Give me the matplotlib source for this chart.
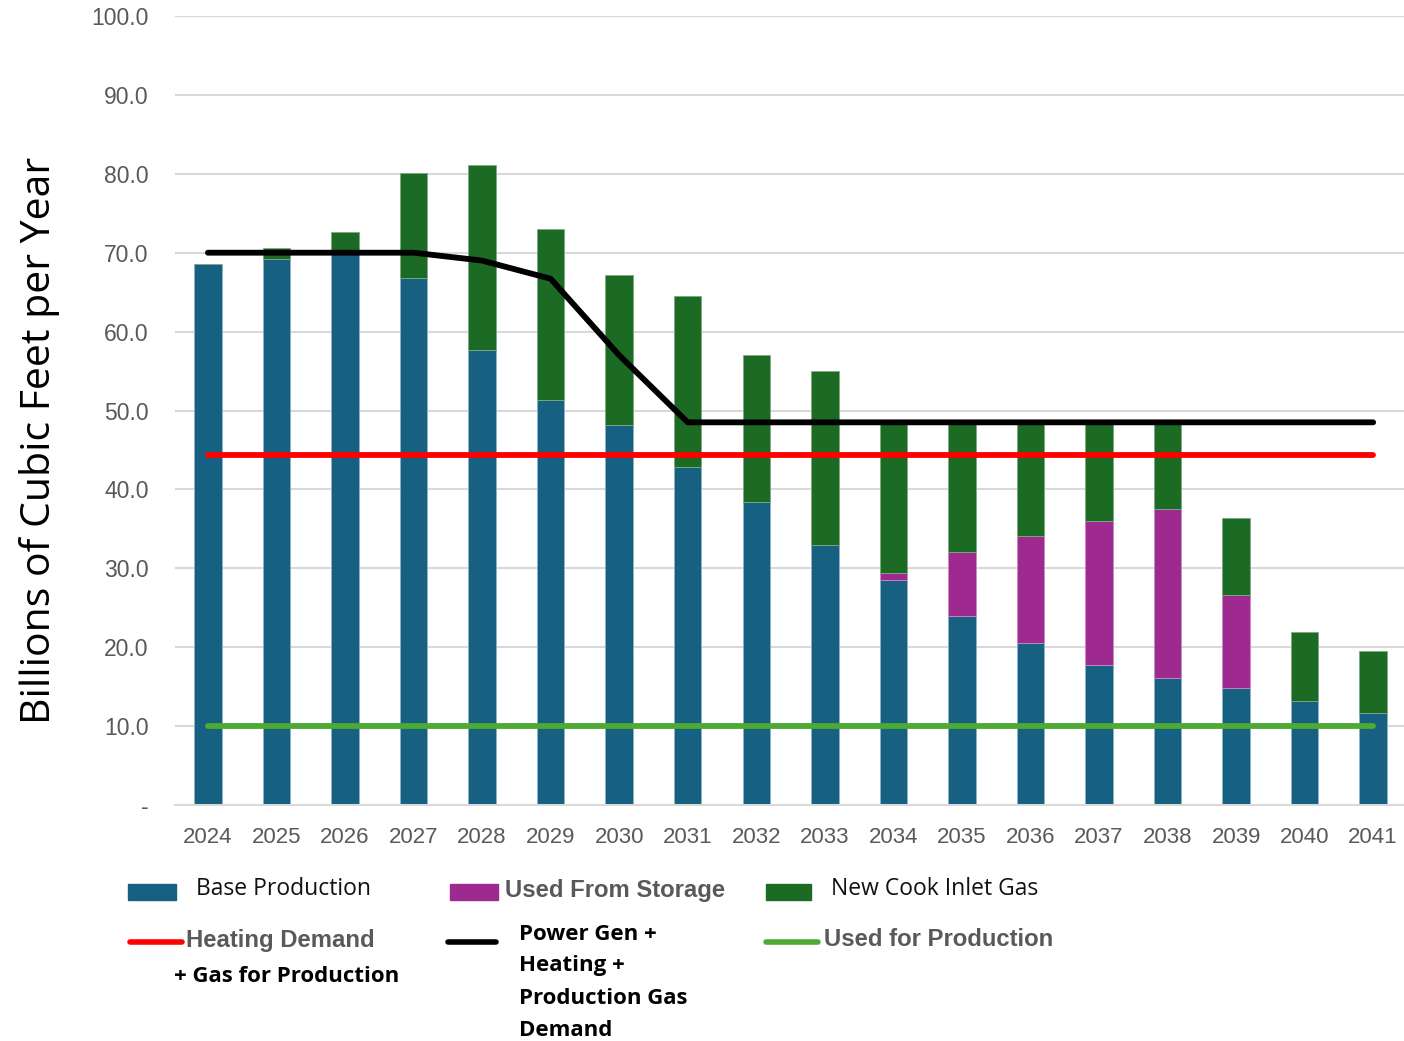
import numpy as np
import matplotlib.pyplot as plt
from matplotlib.patches import Rectangle
from matplotlib.lines import Line2D
from matplotlib.transforms import Bbox, TransformedBbox

years = [str(y) for y in range(2024, 2042)]
base = [68.6, 69.2, 70.1, 66.8, 57.7, 51.3, 48.2, 42.8, 38.4, 33.0,
        28.5, 24.0, 20.5, 17.7, 16.1, 14.8, 13.2, 11.7]
storage = [0, 0, 0, 0, 0, 0, 0, 0, 0, 0,
           0.9, 8.1, 13.6, 18.3, 21.4, 11.8, 0, 0]
cook_inlet = [0, 1.4, 2.5, 13.3, 23.4, 21.7, 19.0, 21.7, 18.6, 22.0,
              19.1, 16.4, 14.4, 12.5, 11.0, 9.8, 8.7, 7.8]
total_demand = [70.0, 70.0, 70.0, 70.0, 69.0, 66.7, 57.0, 48.5, 48.5, 48.5,
                48.5, 48.5, 48.5, 48.5, 48.5, 48.5, 48.5, 48.5]
heating_demand = [44.3] * 18
production_gas = [10.0] * 18

C_BASE = '#166082'
C_STOR = '#9e2a90'
C_COOK = '#1b6b24'
GRAY = '#595959'

fig = plt.figure(figsize=(14.04, 10.41), dpi=100)
ax = fig.add_axes([175 / 1404, 1 - 805 / 1041, 1 - 175 / 1404, (805 - 16) / 1041])

x = np.arange(len(years))
base = np.array(base)
storage = np.array(storage)
cook_inlet = np.array(cook_inlet)
w = 0.4
ax.bar(x, base, w, color=C_BASE, edgecolor='#8fb3c4', linewidth=0.6, zorder=2)
ax.bar(x, storage, w, bottom=base, color=C_STOR, edgecolor='#c98cc0', linewidth=0.6, zorder=2)
ax.bar(x, cook_inlet, w, bottom=base + storage, color=C_COOK, edgecolor='#7fa884', linewidth=0.6, zorder=2)

ax.plot(x, total_demand, color='black', lw=4.2, solid_capstyle='round', zorder=3)
ax.plot(x, heating_demand, color='#ff0000', lw=4.2, solid_capstyle='round', zorder=3)
ax.plot(x, production_gas, color='#4eaa33', lw=4.2, solid_capstyle='round', zorder=3)

ax.set_ylim(0, 100)
ax.set_xlim(-0.48, 17.45)
ax.set_yticks(np.arange(0, 101, 10))
ax.set_yticklabels(['-'] + ['%.1f' % v for v in range(10, 101, 10)])
ax.set_xticks(x)
ax.set_xticklabels(years)
ax.grid(axis='y', color='#d9d9d9', lw=1.5, zorder=0)
ax.set_axisbelow(True)
for s in ['top', 'right', 'left']:
    ax.spines[s].set_visible(False)
ax.spines['bottom'].set_color('#d9d9d9')
ax.spines['bottom'].set_linewidth(1.5)
ax.tick_params(axis='both', length=0, labelsize=16, labelcolor=GRAY)
ax.tick_params(axis='y', pad=19, labelsize=16.5)
ax.tick_params(axis='x', pad=16)
for t in ax.get_xticklabels() + ax.get_yticklabels():
    t.set_fontfamily('Liberation Sans')

fig.text(40 / 1404, 1 - 440 / 1041, 'Billions of Cubic Feet per Year', rotation=90,
         ha='center', va='center', fontsize=29.5, family='Open Sans', color='black')


def fx(px):
    return px / 1404


def fy(py):
    return 1 - py / 1041


def patch(x0, x1, y0, y1, color):
    fig.patches.append(Rectangle((fx(x0), fy(y1)), fx(x1) - fx(x0), fy(y0) - fy(y1),
                                 transform=fig.transFigure, color=color))


def line(x0, x1, y, color):
    fig.lines.append(Line2D([fx(x0), fx(x1)], [fy(y), fy(y)], transform=fig.transFigure,
                            color=color, lw=4, solid_capstyle='round'))


reg = dict(fontsize=16.5, family='Open Sans', color='#111111', va='center')
grey_bold = dict(fontsize=17.2, family='Liberation Sans', weight='bold',
                 color=GRAY, va='center')
blk_bold = dict(fontsize=16, family='Open Sans', weight='bold', color='black', va='center')

patch(128, 176, 884, 900, C_BASE)
fig.text(fx(196), fy(889), 'Base Production', **reg)
patch(450, 498, 884, 900, C_STOR)
fig.text(fx(505), fy(891), 'Used From Storage', **grey_bold)
patch(766, 811, 884, 900, C_COOK)
fig.text(fx(831), fy(889), 'New Cook Inlet Gas', **reg)

line(130, 182, 942, '#ff0000')
fig.text(fx(186), fy(941), 'Heating Demand', **grey_bold)
fig.text(fx(174), fy(977), '+ Gas for Production', **blk_bold)

line(448, 496, 942, 'black')
for i, s in enumerate(['Power Gen +', 'Heating +', 'Production Gas', 'Demand']):
    fig.text(fx(519), fy(934 + 32 * i), s, **blk_bold)

line(766, 818, 942, '#4eaa33')
t = fig.text(fx(824), fy(940), 'Used for Production', **grey_bold)
t.set_clip_box(TransformedBbox(Bbox.from_extents(0, fy(948), 1, 1), fig.transFigure))
t.set_clip_on(True)

fig.savefig('out.png', dpi=100)
